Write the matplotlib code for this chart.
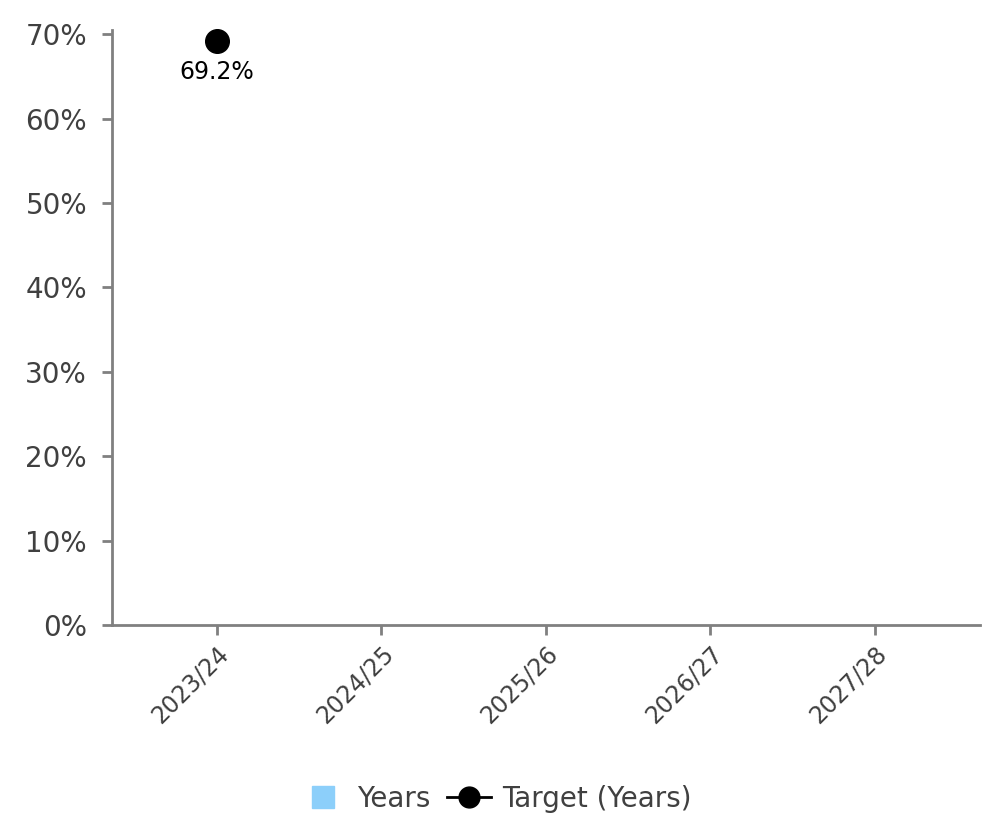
import matplotlib
matplotlib.use("Agg")
from matplotlib import pyplot as plt
from matplotlib.lines import Line2D
import numpy as np

# data
years = ["2023/24", "2024/25", "2025/26", "2026/27", "2027/28"]
years_vals = [0, 0, 0, 0, 0]          # bars (empty)
target_vals = [0.692, None, None, None, None]

plt.rcParams['font.family'] = ['DejaVu Sans']
grey = "#808080"
txt = "#404040"
blue = "#8ccffa"

fig = plt.figure(figsize=(9.87, 8.22), dpi=100)
ax = fig.add_axes([0.1135, 0.2397, 0.8795, 0.7238])

x = np.arange(len(years))
ax.bar(x, years_vals, width=0.6, color=blue)

tx = [i for i, v in enumerate(target_vals) if v is not None]
ty = [v for v in target_vals if v is not None]
ax.plot(tx, ty, color="black", marker="o", markersize=17, lw=2, zorder=5, clip_on=False)
for i, v in zip(tx, ty):
    ax.annotate(f"{v*100:.1f}%", (i, v), xytext=(0, -14), textcoords="offset points",
                ha="center", va="top", fontsize=17, color="black")

ax.set_xlim(-0.635, 4.64)
ax.set_ylim(0, 0.705)
ticks = np.arange(0, 0.71, 0.1)
ax.set_yticks(ticks)
ax.set_yticklabels([f"{int(round(t*100))}%" for t in ticks], fontsize=20, color=txt)
ax.set_xticks(x)
ax.set_xticklabels(years, rotation=45, ha="right", rotation_mode="anchor",
                   fontsize=17, color=txt)

for s in ["top", "right"]:
    ax.spines[s].set_visible(False)
for s in ["left", "bottom"]:
    ax.spines[s].set_color(grey)
    ax.spines[s].set_linewidth(2)
ax.tick_params(axis="both", colors=grey, width=2, length=7, labelcolor=txt)
ax.tick_params(axis="x", pad=5)
ax.tick_params(axis="y", pad=11)

handles = [Line2D([0], [0], color=blue, marker="s", markersize=16, lw=0),
           Line2D([0], [0], color="black", marker="o", markersize=15, lw=2)]
fig.legend(handles, ["Years", "Target (Years)"], loc="center",
           bbox_to_anchor=(0.503, 0.028), ncol=2, frameon=False, fontsize=20,
           handlelength=1.6, handletextpad=0.4, columnspacing=0.6, labelcolor=txt)

fig.savefig("out.png", dpi=100)
